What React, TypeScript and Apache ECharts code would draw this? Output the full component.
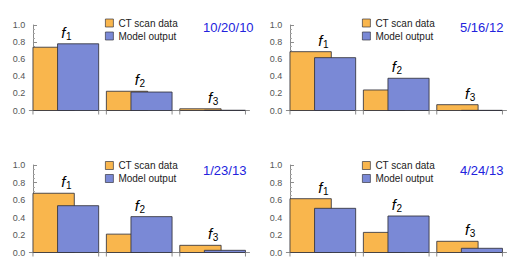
import React, { useEffect, useRef } from "react";
import * as echarts from "echarts";

// ---- data ----
const subscripts = ["1", "2", "3"]; // categories f1, f2, f3
const dates = ["10/20/10", "5/16/12", "1/23/13", "4/24/13"];
const ctScan1 = [0.74, 0.225, 0.02];
const model1 = [0.78, 0.216, 0.003];
const ctScan2 = [0.688, 0.24, 0.068];
const model2 = [0.618, 0.377, 0.002];
const ctScan3 = [0.677, 0.21, 0.082];
const model3 = [0.535, 0.41, 0.025];
const ctScan4 = [0.615, 0.23, 0.128];
const model4 = [0.505, 0.417, 0.048];
const seriesNames = ["CT scan data", "Model output"];

const ctList = [ctScan1, ctScan2, ctScan3, ctScan4];
const modelList = [model1, model2, model3, model4];

// ---- layout / style ----
const FONT = "Liberation Sans";
const ORANGE = "#F9B64D";
const BLUE = "#7A89D6";
const EDGE = "rgba(50,50,60,0.85)";
const AXIS = "#8c8c8c";
const ORANGE_SPAN = [0, 0.563];
const BLUE_SPAN = [0.335, 0.895];
const panels = [
  { left: 29.3, top: 25, h: 85.5, dx: 0, dy: 0 },
  { left: 286.3, top: 25, h: 85.5, dx: 257, dy: 0 },
  { left: 29.3, top: 165, h: 87.5, dx: 0, dy: 142.5 },
  { left: 286.3, top: 165, h: 87.5, dx: 257, dy: 142.5 },
];
const GRID_W = 220.2;

function barSeries(name: string, data: number[], idx: number, span: number[], color: string) {
  return {
    type: "custom",
    name,
    xAxisIndex: idx,
    yAxisIndex: idx,
    itemStyle: { color, borderColor: EDGE, borderWidth: 1 },
    data: data.map((v, i) => [i, v]),
    renderItem: (params: any, api: any) => {
      const i = api.value(0);
      const v = api.value(1);
      const p0 = api.coord([i + span[0], v]);
      const p1 = api.coord([i + span[1], 0]);
      return {
        type: "rect",
        shape: { x: p0[0], y: p0[1], width: p1[0] - p0[0], height: p1[1] - p0[1] },
        style: { fill: color, stroke: EDGE, lineWidth: 1 },
      };
    },
  };
}

function labelSeries(ct: number[], md: number[], idx: number) {
  return {
    type: "custom",
    xAxisIndex: idx,
    yAxisIndex: idx,
    silent: true,
    clip: false,
    z: 10,
    data: ct.map((v, i) => [i, Math.max(v, md[i])]),
    renderItem: (params: any, api: any) => {
      const i = api.value(0);
      const v = api.value(1);
      const p = api.coord([i + (ORANGE_SPAN[0] + BLUE_SPAN[1]) / 2, v]);
      const b0 = api.coord([i + ORANGE_SPAN[0], 0]);
      const b1 = api.coord([i + BLUE_SPAN[1], 0]);
      return {
        type: "group",
        children: [
          {
            type: "line",
            shape: { x1: b0[0], y1: b0[1], x2: b0[0], y2: b0[1] + 4 },
            style: { stroke: AXIS, lineWidth: 1 },
          },
          {
            type: "line",
            shape: { x1: b1[0], y1: b1[1], x2: b1[0], y2: b1[1] + 4 },
            style: { stroke: AXIS, lineWidth: 1 },
          },
          {
            type: "text",
            x: p[0] - 2.5,
            y: p[1] - 11.5,
            style: {
              text: "f",
              fontSize: 15,
              fontStyle: "italic",
              fontFamily: FONT,
              fill: "#000",
              align: "center",
              verticalAlign: "middle",
            },
          },
          {
            type: "text",
            x: p[0] + 3,
            y: p[1] - 7.5,
            style: {
              text: subscripts[i],
              fontSize: 10,
              fontFamily: FONT,
              fill: "#000",
              align: "center",
              verticalAlign: "middle",
            },
          },
        ],
      };
    },
  };
}

export default function App() {
  const ref = useRef<HTMLDivElement>(null);
  useEffect(() => {
    if (!ref.current) return;
    const chart = echarts.init(ref.current, null, { renderer: "svg" });
    const grid: any[] = [];
    const xAxis: any[] = [];
    const yAxis: any[] = [];
    const series: any[] = [];
    const legend: any[] = [];
    const title: any[] = [];
    panels.forEach((p, k) => {
      grid.push({ left: p.left, top: p.top, width: GRID_W, height: p.h, containLabel: false });
      xAxis.push({
        type: "value",
        gridIndex: k,
        min: -0.05,
        max: 2.95,
        splitLine: { show: false },
        axisLine: { show: true, lineStyle: { color: AXIS, width: 1 } },
        axisTick: { show: false },
        axisLabel: { show: false },
      });
      yAxis.push({
        type: "value",
        gridIndex: k,
        min: 0,
        max: 1,
        interval: 0.2,
        splitLine: { show: false },
        axisLine: { show: true, lineStyle: { color: AXIS, width: 1 } },
        axisTick: { show: true, inside: true, length: 4, lineStyle: { color: AXIS } },
        minorTick: { show: true, splitNumber: 4, length: 2, lineStyle: { color: "#a8a8a8" } },
        axisLabel: {
          fontSize: 9,
          color: "#555",
          fontFamily: FONT,
          margin: 4,
          formatter: (v: number) => v.toFixed(1),
        },
      });
      series.push(barSeries(seriesNames[0], ctList[k], k, ORANGE_SPAN, ORANGE));
      series.push(barSeries(seriesNames[1], modelList[k], k, BLUE_SPAN, BLUE));
      series.push(labelSeries(ctList[k], modelList[k], k));
      legend.push({
        data: seriesNames,
        orient: "vertical",
        left: 105 + p.dx,
        top: 18 + p.dy,
        padding: 0,
        itemGap: 3,
        itemWidth: 8,
        itemHeight: 8,
        icon: "rect",
        selectedMode: false,
        itemStyle: { borderColor: EDGE, borderWidth: 0.8 },
        textStyle: { fontSize: 10, color: "#222", fontFamily: FONT },
      });
      title.push({
        text: dates[k],
        left: 203 + p.dx,
        top: 21 + p.dy,
        padding: 0,
        textStyle: { fontSize: 13, fontWeight: "normal", color: "#2222DD", fontFamily: FONT },
      });
    });
    chart.setOption({
      animation: false,
      backgroundColor: "#fff",
      grid,
      xAxis,
      yAxis,
      series,
      legend,
      title,
    });
    return () => chart.dispose();
  }, []);
  return (
    <div
      ref={ref}
      style={{ position: "fixed", left: 0, top: 0, width: 519, height: 277 }}
    />
  );
}
